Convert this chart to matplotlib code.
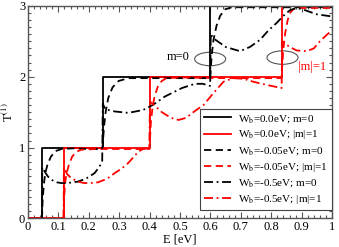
import numpy as np
import matplotlib
matplotlib.use("Agg")
import matplotlib.pyplot as plt
from matplotlib.patches import Ellipse

plt.rcParams['font.family'] = ['Liberation Serif', 'DejaVu Serif']
plt.rcParams['mathtext.fontset'] = 'stix'

# W_b = 0 : ideal steps (thresholds in eV)
E_step_m0 = [0.0, 0.046, 0.245, 0.6, 1.0]
E_step_m1 = [0.0, 0.117, 0.4, 0.835, 1.0]
T_step = [0, 1, 2, 3, 3]

# W_b = -0.05 eV, m=0
E_d_m0 = [0.046, 0.048, 0.052, 0.057, 0.064, 0.075, 0.09, 0.11, 0.15, 0.2, 0.244,
          0.246, 0.25, 0.256, 0.264, 0.278, 0.298, 0.33, 0.4, 0.5, 0.599,
          0.601, 0.604, 0.61, 0.62, 0.632, 0.648, 0.67, 0.75, 0.85, 1.0]
T_d_m0 = [0.0, 0.25, 0.48, 0.64, 0.76, 0.87, 0.95, 0.98, 0.99, 0.98, 0.98,
          1.05, 1.3, 1.52, 1.7, 1.85, 1.94, 1.98, 1.98, 1.98, 1.98,
          2.1, 2.3, 2.52, 2.72, 2.86, 2.95, 2.98, 2.98, 2.98, 2.98]

# W_b = -0.05 eV, |m|=1
E_d_m1 = [0.117, 0.119, 0.122, 0.127, 0.134, 0.145, 0.158, 0.175, 0.22, 0.3, 0.399,
          0.401, 0.404, 0.409, 0.416, 0.427, 0.44, 0.455, 0.5, 0.65, 0.834,
          0.836, 0.84, 0.846, 0.854, 0.863, 0.875, 0.9, 0.95, 1.0]
T_d_m1 = [0.0, 0.3, 0.5, 0.64, 0.75, 0.87, 0.94, 0.97, 0.98, 0.98, 0.98,
          1.1, 1.35, 1.55, 1.72, 1.86, 1.94, 1.98, 1.99, 1.98, 1.98,
          2.15, 2.4, 2.62, 2.8, 2.91, 2.96, 2.97, 2.97, 2.97]

# W_b = -0.5 eV, m=0
E_dd_m0 = [0.046, 0.047, 0.055, 0.066, 0.08, 0.095, 0.11, 0.13, 0.164, 0.19, 0.219, 0.235, 0.244,
           0.246, 0.254, 0.285, 0.33, 0.378, 0.41, 0.45, 0.506, 0.549, 0.575, 0.599,
           0.601, 0.61, 0.65, 0.697, 0.73, 0.763, 0.79, 0.818, 0.84, 0.862, 0.884, 0.91, 0.95, 1.0]
T_dd_m0 = [0.0, 0.72, 0.66, 0.59, 0.54, 0.51, 0.5, 0.5, 0.52, 0.56, 0.64, 0.73, 0.81,
           1.62, 1.54, 1.51, 1.49, 1.53, 1.6, 1.72, 1.84, 1.9, 1.9, 1.87,
           2.6, 2.54, 2.42, 2.36, 2.42, 2.52, 2.65, 2.76, 2.86, 2.94, 2.97, 2.94, 2.88, 2.85]

# W_b = -0.5 eV, |m|=1
E_dd_m1 = [0.117, 0.118, 0.128, 0.142, 0.164, 0.185, 0.205, 0.23, 0.26, 0.285, 0.31, 0.329, 0.35, 0.362, 0.378, 0.399,
           0.401, 0.42, 0.44, 0.47, 0.495, 0.52, 0.55, 0.577, 0.61, 0.643, 0.675, 0.71, 0.74, 0.79, 0.834,
           0.836, 0.86, 0.884, 0.917, 0.94, 0.96, 0.98, 1.0]
T_dd_m1 = [0.0, 0.72, 0.63, 0.57, 0.52, 0.5, 0.5, 0.51, 0.56, 0.64, 0.71, 0.78, 0.88, 0.94, 0.98, 0.99,
           1.65, 1.58, 1.5, 1.42, 1.39, 1.42, 1.52, 1.6, 1.77, 1.93, 1.98, 1.97, 1.93, 1.88, 1.84,
           2.5, 2.42, 2.37, 2.36, 2.4, 2.5, 2.58, 2.66]

labels = ["W$_\\mathrm{b}$=0.0eV; m=0", "W$_\\mathrm{b}$=0.0eV; |m|=1",
          "W$_\\mathrm{b}$=-0.05eV; m=0", "W$_\\mathrm{b}$=-0.05eV; |m|=1",
          "W$_\\mathrm{b}$=-0.5eV; m=0", "W$_\\mathrm{b}$=-0.5eV; |m|=1"]

xticks = [0, 0.1, 0.2, 0.3, 0.4, 0.5, 0.6, 0.7, 0.8, 0.9, 1.0]
xticklabels = ['0', '0.1', '0.2', '0.3', '0.4', '0.5', '0.6', '0.7', '0.8', '0.9', '1']
yticks = [0, 1, 2, 3]

fig = plt.figure(figsize=(3.39, 2.47), dpi=100)
ax = fig.add_axes([0.0826, 0.1154, 0.897, 0.861])

lw = 1.3
dash = (0, (4, 2.5))
dashdot = (0, (5, 2, 1, 2))
ax.step(E_step_m0, T_step, where='post', color='black', lw=lw, label=labels[0])
ax.step(E_step_m1, T_step, where='post', color='red', lw=lw, label=labels[1])
ax.plot(E_d_m0, T_d_m0, color='black', lw=lw, ls=dash, label=labels[2])
ax.plot(E_d_m1, T_d_m1, color='red', lw=lw, ls=dash, label=labels[3])
ax.plot(E_dd_m0, T_dd_m0, color='black', lw=lw, ls=dashdot, label=labels[4])
ax.plot(E_dd_m1, T_dd_m1, color='red', lw=lw, ls=dashdot, label=labels[5])

# circled thresholds
ax.add_patch(Ellipse((0.599, 2.25), 0.102, 0.19, fill=False, ec='#555555', lw=0.8))
ax.add_patch(Ellipse((0.837, 2.27), 0.102, 0.19, fill=False, ec='#555555', lw=0.8))
ax.text(0.533, 2.28, "m=0", ha='right', va='center', fontsize=9, color='black')
ax.text(0.888, 2.14, "|m|=1", ha='left', va='center', fontsize=9, color='red')

ax.set_xlim(0, 1)
ax.set_ylim(0, 3)
ax.set_xticks(xticks)
ax.set_xticklabels(xticklabels)
ax.set_yticks(yticks)
ax.set_xticks(np.arange(0, 1.001, 0.02), minor=True)
ax.set_yticks(np.arange(0, 3.001, 0.1), minor=True)
ax.tick_params(which='both', direction='in', top=True, right=True, color='#555555',
               labelsize=9, pad=2)
ax.tick_params(which='major', length=4, width=0.8)
ax.tick_params(which='minor', length=2.5, width=0.8)
for s in ax.spines.values():
    s.set_color('#555555')
    s.set_linewidth(1.0)

ax.set_xlabel("E [eV]", fontsize=9, labelpad=0)
ax.set_ylabel("T$^{\\mathrm{(1)}}$", fontsize=9, labelpad=2)

leg = ax.legend(loc='lower right', bbox_to_anchor=(1.0, 0.04), borderaxespad=0,
                fontsize=8, frameon=True, fancybox=False, framealpha=1,
                handlelength=2.4, labelspacing=0.33, borderpad=0.35, handletextpad=0.7)
leg.get_frame().set_edgecolor('#444444')
leg.get_frame().set_linewidth(0.8)

fig.savefig("out.png", dpi=100)
